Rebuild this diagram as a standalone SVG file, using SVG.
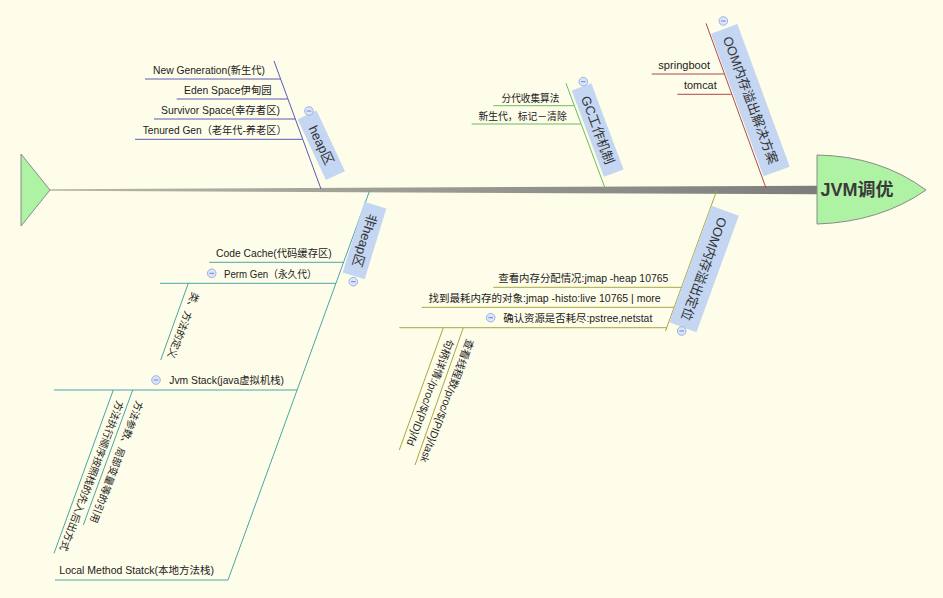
<svg xmlns="http://www.w3.org/2000/svg" xmlns:xlink="http://www.w3.org/1999/xlink" width="943" height="598" viewBox="0 0 943 598">
<defs>
<style>
.t{font-family:"Liberation Sans","Noto Sans CJK SC",sans-serif;font-size:10.5px;fill:#222}
.e{text-anchor:end}
.c10{font-size:10px}
.topic{font-family:"Liberation Sans","Noto Sans CJK SC",sans-serif;font-size:13px;fill:#333;text-anchor:middle}
.box{fill:#c4d6f2}
.ln{fill:none;stroke-width:1}
.blue{stroke:#5a5ab8}
.green{stroke:#6cbd5c}
.red{stroke:#b04848}
.teal{stroke:#4aa6a6}
.olive{stroke:#a9a840}
.fish{fill:#aef2a4;stroke:#8a8a8a;stroke-width:1}
</style>
<linearGradient id="spineGrad" x1="50" y1="0" x2="817" y2="0" gradientUnits="userSpaceOnUse">
<stop offset="0" stop-color="#b8b8a8"/>
<stop offset="1" stop-color="#7d7d7d"/>
</linearGradient>
<g id="minus">
<circle r="4.3" fill="#dce6fa" stroke="#9cb2e4" stroke-width="1"/>
<path d="M-2.3,0H2.3" stroke="#6a88d0" stroke-width="1"/>
</g>
</defs>
<rect width="943" height="598" fill="#fdfde9"/>

<g id="connectors">
<polygon points="50,189.2 817,185.7 817,194.3 50,190.8" fill="url(#spineGrad)"/>
<path class="ln blue" d="M274,61L321,189M145,79H280.5M176.7,99H287.8M154,119H295M135,139.3H302.3"/>
<path class="ln green" d="M566,83.3L605,188M493.3,105.7H574.2M471.7,124H581"/>
<path class="ln red" d="M706,23.3L766,188M651.7,74H724.4M677.3,94.3H731.8"/>
<path class="ln teal" d="M369.5,191L228,580M209.3,262.3H343.6M160,283.3H336M54,390H297.1M55,580H228M188.3,283.3L160.7,360M113.3,390L54,553.3M132.7,390L83.3,525"/>
<path class="ln olive" d="M716.6,191L665.5,331M493.3,287.3H681.3M421.7,307.3H674M399.3,327.7H666.5M443.3,327.7L399.3,450M463.3,327.7L415,465"/>
</g>

<g id="tail"><polygon class="fish" points="21,154 50,190 21,226"/></g>
<g id="head">
<path class="fish" d="M817,155Q880,156 926,190Q880,222 817,224Z"/>
<text x="820.5" y="196" style="font-family:'Liberation Sans','Noto Sans CJK SC',sans-serif;font-size:18px;font-weight:bold;fill:#3a3a3a">JVM调优</text>
</g>

<g id="heap">
<g transform="translate(321.25,145.25) rotate(65)"><rect class="box" x="-33.5" y="-10.5" width="67" height="21"/><text class="topic" y="4.5">heap区</text></g>
<use xlink:href="#minus" x="309" y="111"/>
</g>
<g id="heap-new"><text class="t e" x="265" y="74" textLength="112" lengthAdjust="spacingAndGlyphs">New Generation(新生代)</text></g>
<g id="heap-eden"><text class="t e" x="271.7" y="94" textLength="87.7" lengthAdjust="spacingAndGlyphs">Eden Space伊甸园</text></g>
<g id="heap-survivor"><text class="t e" x="280" y="114" textLength="119" lengthAdjust="spacingAndGlyphs">Survivor Space(幸存者区)</text></g>
<g id="heap-tenured"><text class="t e" x="286.7" y="134.3" textLength="144" lengthAdjust="spacingAndGlyphs">Tenured Gen（老年代-养老区）</text></g>

<g id="gc">
<g transform="translate(597.6,130) rotate(69.5)"><rect class="box" x="-46" y="-10.5" width="92" height="21"/><text class="topic" y="4.5">GC工作机制</text></g>
<use xlink:href="#minus" x="583.3" y="81.7"/>
</g>
<g id="gc-1"><text class="t e" x="559.3" y="101.5" textLength="57.7" lengthAdjust="spacingAndGlyphs">分代收集算法</text></g>
<g id="gc-2"><text class="t e" x="566.7" y="119.8" textLength="88.3" lengthAdjust="spacingAndGlyphs">新生代，标记－清除</text></g>

<g id="oom-solution">
<g transform="translate(750.4,100.2) rotate(69.8)"><rect class="box" x="-76" y="-14" width="152" height="28"/><text class="topic" y="4.5">OOM内存溢出解决方案</text></g>
<use xlink:href="#minus" x="723.3" y="21"/>
</g>
<g id="sol-springboot"><text class="t e" x="710" y="68.5" textLength="51.7" lengthAdjust="spacingAndGlyphs">springboot</text></g>
<g id="sol-tomcat"><text class="t e" x="716.7" y="88.8" textLength="32.7" lengthAdjust="spacingAndGlyphs">tomcat</text></g>

<g id="nonheap">
<g transform="translate(364.5,240.5) rotate(107)"><rect class="box" x="-37" y="-11.5" width="74" height="23"/><text class="topic" y="4.5">非heap区</text></g>
<use xlink:href="#minus" x="353.3" y="281.7"/>
</g>
<g id="nh-code"><text class="t e" x="331.7" y="256.5" textLength="115.7" lengthAdjust="spacingAndGlyphs">Code Cache(代码缓存区)</text></g>
<g id="nh-perm">
<text class="t e" x="316.7" y="277.5" textLength="92.7" lengthAdjust="spacingAndGlyphs">Perm Gen（永久代）</text>
<use xlink:href="#minus" x="211.7" y="273.3"/>
</g>
<g id="perm-def"><text class="t c10" transform="translate(192.4,291.5) rotate(111)">类、方法的定义</text></g>
<g id="nh-jvm">
<text class="t e" x="284" y="384" textLength="114.7" lengthAdjust="spacingAndGlyphs">Jvm Stack(java虚拟机栈)</text>
<use xlink:href="#minus" x="156" y="380"/>
</g>
<g id="jvm-order"><text class="t c10" transform="translate(117.1,399.9) rotate(111)">方法执行顺序按照栈的先入后出方式</text></g>
<g id="jvm-params"><text class="t c10" transform="translate(136.5,399.9) rotate(111)">方法参数、局部变量等的引用</text></g>
<g id="nh-local"><text class="t e" x="214" y="574" textLength="154.7" lengthAdjust="spacingAndGlyphs">Local Method Statck(本地方法栈)</text></g>

<g id="oom-locate">
<g transform="translate(704,269) rotate(110)"><rect class="box" x="-62" y="-14.5" width="124" height="29"/><text class="topic" y="4.5">OOM内存溢出定位</text></g>
<use xlink:href="#minus" x="681.7" y="331"/>
</g>
<g id="loc-heap"><text class="t e" x="668.3" y="281.5" textLength="170" lengthAdjust="spacingAndGlyphs">查看内存分配情况:jmap -heap 10765</text></g>
<g id="loc-histo"><text class="t e" x="660.7" y="301.5" textLength="232.3" lengthAdjust="spacingAndGlyphs">找到最耗内存的对象:jmap -histo:live 10765 | more</text></g>
<g id="loc-res">
<text class="t e" x="652.3" y="321.5" textLength="149" lengthAdjust="spacingAndGlyphs">确认资源是否耗尽:pstree,netstat</text>
<use xlink:href="#minus" x="490.7" y="317.7"/>
</g>
<g id="res-fd"><text class="t" transform="translate(447.1,338.2) rotate(111)">句柄详情:/proc/${PID}/fd</text></g>
<g id="res-task"><text class="t" transform="translate(467.1,338.2) rotate(111)">查看线程数/proc/${PID}/task</text></g>
</svg>
